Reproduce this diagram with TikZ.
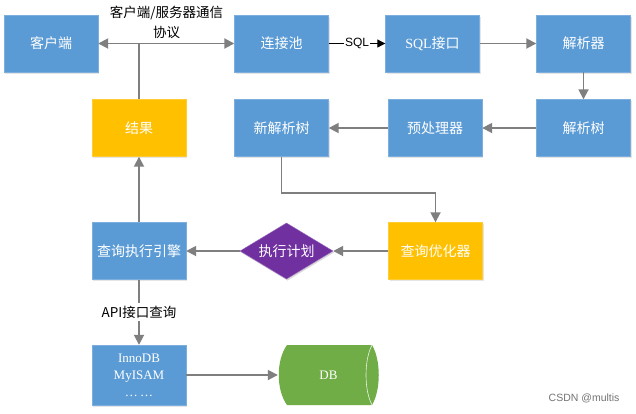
\documentclass[tikz,border=0pt]{standalone}
\usepackage{fontspec}
\setmainfont{Noto Sans CJK SC}
\newfontfamily\latf{Liberation Serif}
\newfontfamily\sansf{Liberation Sans}
\usetikzlibrary{arrows.meta,shapes.geometric,shadows}
\definecolor{boxblue}{HTML}{5B9BD5}
\definecolor{boxyellow}{HTML}{FFC000}
\definecolor{boxpurple}{HTML}{7030A0}
\definecolor{boxgreen}{HTML}{70AD47}
\definecolor{arrgray}{HTML}{7F7F7F}
\tikzset{
  box/.style={rectangle, fill=boxblue, draw=boxblue!80!white, line width=0.4pt,
    minimum width=94pt, minimum height=57pt, inner sep=0pt, text=white,
    font=\fontsize{14}{16}\selectfont,
    drop shadow={shadow xshift=1pt, shadow yshift=-1.5pt, opacity=0.2}},
  ybox/.style={box, fill=boxyellow, draw=boxyellow!80!white},
  conn/.style={draw=arrgray, line width=1.8pt, -{Triangle[length=10pt,width=10pt]}},
  plain/.style={draw=arrgray, line width=1.8pt},
  lbl/.style={font=\fontsize{13.5}{20}\selectfont, text=black, inner sep=1pt}
}
\begin{document}
\begin{tikzpicture}[x=1pt,y=-1pt]
\useasboundingbox (0,0) rectangle (636,413);
\fill[white] (0,0) rectangle (636,413);

% nodes
\node[box] (kehu) at (51,43.5) {客户端};
\node[box] (lianjie) at (281.5,43.5) {连接池};
\node[box] (sqlif) at (432.5,43.5) {{\latf SQL}接口};
\node[box] (jiexiqi) at (583.5,43.5) {解析器};
\node[box] (jiexishu) at (583.5,128) {解析树};
\node[box] (yuchuli) at (435,128) {预处理器};
\node[box] (xinjiexi) at (281.5,128) {新解析树};
\node[ybox] (jieguo) at (139,128) {结果};
\node[ybox] (youhua) at (435.5,251) {查询优化器};
% execution plan diamond
\fill[black, opacity=0.15] (241,252.5) -- (287.5,224.5) -- (334,252.5) -- (287.5,280.5) -- cycle;
\filldraw[fill=boxpurple, draw=boxpurple!70!white, line width=0.4pt]
  (240,251) -- (286.5,223) -- (333,251) -- (286.5,279) -- cycle;
\node[rectangle, minimum width=93pt, minimum height=56pt, inner sep=0pt, text=white,
  font=\fontsize{14}{16}\selectfont] (jihua) at (286.5,251) {执行计划};
\node[box] (zhixing) at (139,251) {查询执行引擎};
\node[box, minimum height=60pt, align=center, font=\latf\fontsize{13}{17}\selectfont] (innodb) at (139,375) {InnoDB\\MyISAM\\…\,…};

% DB cylinder
\fill[boxgreen] (287,345) -- (372,345) .. controls (381,360) and (381,390) .. (372,405)
  -- (287,405) .. controls (276,390) and (276,360) .. (287,345) -- cycle;
\draw[white!85!boxgreen, line width=0.6pt] (372,345) .. controls (364,360) and (364,390) .. (372,405);
\node[rectangle, minimum width=101pt, minimum height=60pt, inner sep=0pt, text=white,
  font=\latf\fontsize{13}{16}\selectfont] (db) at (328.5,375) {DB};

% connectors
\coordinate (j1) at (139,43.5);
\draw[draw=arrgray, line width=1.8pt, {Triangle[length=10pt,width=10pt]}-{Triangle[length=10pt,width=10pt]}] (kehu.east) -- (lianjie.west);
\node[lbl, align=center] (proto) at (166.5,22) {客户端/服务器通信\\协议};
\draw[plain] (jieguo.north) -- (j1);
\draw[black, line width=1pt, -{Triangle[length=8pt,width=8pt]}] (lianjie.east) -- node[fill=white, inner sep=1pt, font=\sansf\fontsize{12}{14}\selectfont, text=black] (sqllbl) {SQL} (sqlif.west);
\draw[conn] (sqlif.east) -- (jiexiqi.west);
\draw[conn] (jiexiqi.south) -- (jiexishu.north);
\draw[conn] (jiexishu.west) -- (yuchuli.east);
\draw[conn] (yuchuli.west) -- (xinjiexi.east);
\coordinate (b1) at (281.5,193);
\coordinate (b2) at (435.5,193);
\draw[conn] (xinjiexi.south) -- (b1) -- (b2) -- (youhua.north);
\draw[conn] (youhua.west) -- (jihua.east);
\draw[conn] (jihua.west) -- (zhixing.east);
\draw[conn] (zhixing.north) -- (jieguo.south);
\draw[conn] (zhixing.south) -- node[fill=white, lbl, inner sep=3pt] (api) {API接口查询} (innodb.north);
\draw[conn] (innodb.east) -- (db.west);

\node[text=black!55, font=\sansf\fontsize{10.5}{12}\selectfont, anchor=east] (wm) at (623,398) {CSDN @multis};
\end{tikzpicture}
\end{document}
